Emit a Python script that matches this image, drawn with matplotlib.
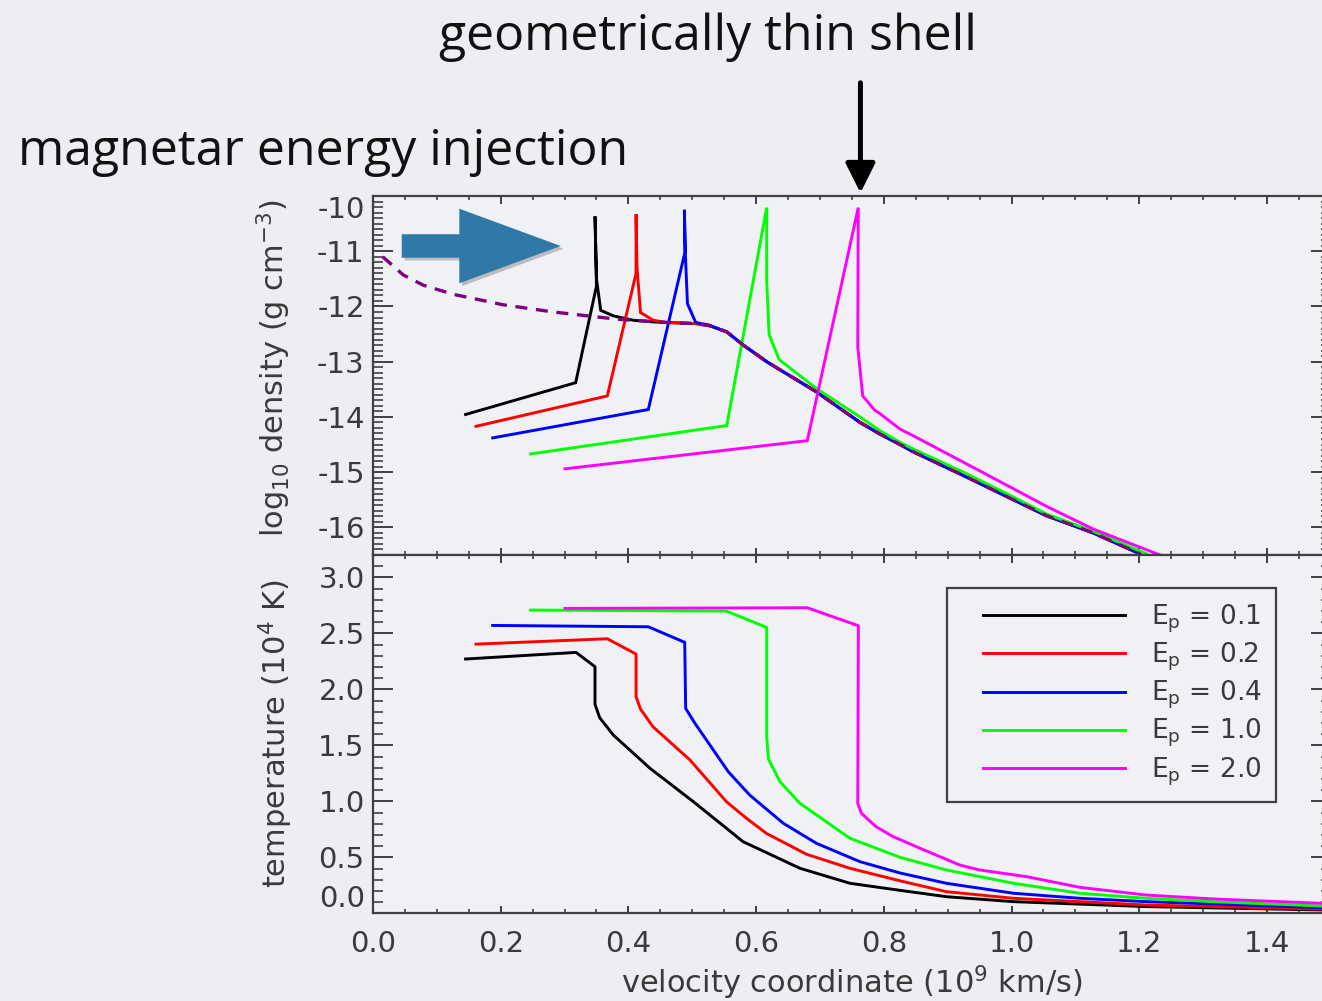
import matplotlib
matplotlib.use("Agg")
import matplotlib.pyplot as plt
from matplotlib.ticker import MultipleLocator, FixedLocator, FuncFormatter
from matplotlib.patches import FancyArrow
from matplotlib.lines import Line2D
from matplotlib.legend_handler import HandlerLine2D
import matplotlib.patheffects as pe

plt.rcParams['axes.unicode_minus'] = False
plt.rcParams['font.family'] = ['DejaVu Sans']

# ---------------- data ----------------
labels = [r'E$_\mathrm{p}$ = 0.1', r'E$_\mathrm{p}$ = 0.2', r'E$_\mathrm{p}$ = 0.4',
          r'E$_\mathrm{p}$ = 1.0', r'E$_\mathrm{p}$ = 2.0']
colors = ['#000000', '#ff0000', '#0000ff', '#00ff00', '#ff00ff']

# shared outer density profile (black/red/blue/initial merge here)
dens_outer_v = [0.46, 0.505, 0.528, 0.554, 0.58, 0.6166, 0.695, 0.7627, 0.794, 0.8254,
                0.846, 0.9246, 1.003, 1.055, 1.128, 1.2013]
dens_outer_r = [-12.29, -12.31, -12.35, -12.46, -12.70, -13.0, -13.55, -14.10, -14.31, -14.50,
                -14.63, -15.06, -15.50, -15.79, -16.10, -16.48]

dens_v_01 = [0.145, 0.3174, 0.3500, 0.3477, 0.3500, 0.3566, 0.3764, 0.4077, 0.439]
dens_r_01 = [-13.956, -13.38, -11.63, -10.37, -11.50, -12.07, -12.17, -12.25, -12.28]
dens_v_02 = [0.1613, 0.367, 0.412, 0.412, 0.4135, 0.419, 0.439]
dens_r_02 = [-14.17, -13.62, -11.40, -10.33, -11.30, -12.11, -12.25]
dens_v_04 = [0.1874, 0.4312, 0.4887, 0.4877, 0.4890, 0.4925, 0.5054, 0.5278]
dens_r_04 = [-14.38, -13.866, -11.01, -10.25, -11.00, -11.95, -12.29, -12.34]
dens_v_10 = [0.247, 0.554, 0.6166, 0.6166, 0.6204, 0.636, 0.695, 0.7627, 0.794, 0.8254,
             0.846, 0.9246, 1.003, 1.055, 1.128, 1.2117]
dens_r_10 = [-14.67, -14.156, -10.21, -11.55, -12.51, -12.96, -13.49, -14.0, -14.25, -14.46,
             -14.58, -15.0, -15.45, -15.76, -16.07, -16.48]
dens_v_20 = [0.3007, 0.6802, 0.760, 0.7592, 0.767, 0.786, 0.794, 0.8254, 0.846, 0.9246,
             1.003, 1.055, 1.128, 1.2326]
dens_r_20 = [-14.94, -14.43, -10.21, -12.73, -13.62, -13.88, -13.94, -14.22, -14.34, -14.82,
             -15.30, -15.62, -16.03, -16.50]
dens_v_init = [0.0152, 0.0475, 0.0788, 0.1258, 0.204, 0.2824, 0.3816]
dens_r_init = [-11.10, -11.43, -11.615, -11.78, -11.97, -12.10, -12.23]

temp_v_01 = [0.145, 0.318, 0.3477, 0.3477, 0.355, 0.3764, 0.4338, 0.5017, 0.5795, 0.6687,
             0.747, 0.8254, 0.8985, 1.003, 1.211, 1.486]
temp_t_01 = [2.271, 2.33, 2.202, 1.866, 1.747, 1.592, 1.295, 0.997, 0.64, 0.402,
             0.268, 0.205, 0.148, 0.104, 0.06, 0.03]
temp_v_02 = [0.1613, 0.367, 0.412, 0.412, 0.419, 0.4385, 0.4965, 0.5535, 0.585, 0.6161,
             0.679, 0.747, 0.8254, 0.898, 1.003, 1.211, 1.486]
temp_t_02 = [2.404, 2.452, 2.315, 1.934, 1.824, 1.666, 1.369, 0.997, 0.848, 0.714,
             0.527, 0.402, 0.29, 0.193, 0.134, 0.074, 0.038]
temp_v_04 = [0.1874, 0.4312, 0.4882, 0.4897, 0.5043, 0.5565, 0.59, 0.6426, 0.6945, 0.7627,
             0.8254, 0.898, 1.003, 1.107, 1.211, 1.486]
temp_t_04 = [2.571, 2.559, 2.42, 1.83, 1.696, 1.264, 1.056, 0.804, 0.625, 0.461,
             0.36, 0.268, 0.179, 0.134, 0.104, 0.05]
temp_v_10 = [0.247, 0.5535, 0.6166, 0.6166, 0.6193, 0.6374, 0.6687, 0.747, 0.8254, 0.898,
             1.003, 1.107, 1.211, 1.316, 1.486]
temp_t_10 = [2.708, 2.699, 2.553, 1.577, 1.378, 1.175, 0.982, 0.67, 0.50, 0.387,
             0.268, 0.179, 0.134, 0.104, 0.065]
temp_v_20 = [0.3007, 0.6802, 0.7602, 0.7592, 0.765, 0.788, 0.815, 0.857, 0.919, 0.950,
             1.024, 1.107, 1.211, 1.316, 1.486]
temp_t_20 = [2.723, 2.729, 2.568, 0.982, 0.893, 0.773, 0.684, 0.58, 0.431, 0.387,
             0.327, 0.232, 0.163, 0.128, 0.089]

x_ticks = [0.0, 0.2, 0.4, 0.6, 0.8, 1.0, 1.2, 1.4]
dens_ticks = [-16, -15, -14, -13, -12, -11, -10]
temp_ticks = [0.0, 0.5, 1.0, 1.5, 2.0, 2.5, 3.0]

# ---------------- figure ----------------
W, H = 1322, 1001
bg = '#eceef2'
axbg = '#eff1f4'
spine_c = '#404040'
text_c = '#3a3a3a'

fig = plt.figure(figsize=(W / 100, H / 100), dpi=100, facecolor=bg)

left_px, right_px = 373, 1330.75
top_px, mid_px, bot_px = 196, 555, 913.3
ax1 = fig.add_axes([left_px / W, 1 - mid_px / H, (right_px - left_px) / W, (mid_px - top_px) / H])
ax2 = fig.add_axes([left_px / W, 1 - bot_px / H, (right_px - left_px) / W, (bot_px - mid_px) / H])

lw = 2.1
dens_v = [dens_v_01 + dens_outer_v, dens_v_02 + dens_outer_v, dens_v_04 + dens_outer_v[2:],
          dens_v_10, dens_v_20]
dens_r = [dens_r_01 + dens_outer_r, dens_r_02 + dens_outer_r, dens_r_04 + dens_outer_r[2:],
          dens_r_10, dens_r_20]
temp_v = [temp_v_01, temp_v_02, temp_v_04, temp_v_10, temp_v_20]
temp_t = [temp_t_01, temp_t_02, temp_t_04, temp_t_10, temp_t_20]

for v, r, c in zip(dens_v, dens_r, colors):
    ax1.plot(v, r, color=c, lw=lw, solid_joinstyle='miter')
ax1.plot(dens_v_init + dens_outer_v, dens_r_init + dens_outer_r, color='#7f007f', lw=2.4,
         linestyle=(0, (3.6, 2.6)))

for v, t, c, lab in zip(temp_v, temp_t, colors, labels):
    ax2.plot(v, t, color=c, lw=lw, label=lab)

for ax in (ax1, ax2):
    ax.set_facecolor(axbg)
    ax.set_xlim(0, 1.5)
    for s in ax.spines.values():
        s.set_color(spine_c)
        s.set_linewidth(1.6)
    ax.xaxis.set_major_locator(FixedLocator(x_ticks))
    ax.xaxis.set_minor_locator(MultipleLocator(0.05))
    ax.yaxis.set_minor_locator(MultipleLocator(0.1))
    ax.tick_params(axis='both', which='both', direction='in', top=True, right=True,
                   colors=spine_c, labelcolor=text_c, labelsize=21)
    ax.tick_params(axis='x', which='major', length=5.4, width=1.4)
    ax.tick_params(axis='x', which='minor', length=2.7, width=1.2)
    ax.tick_params(axis='y', which='major', length=14.4, width=1.4, pad=6)
    ax.tick_params(axis='y', which='minor', length=7.2, width=1.2)

ax1.set_ylim(-16.5, -10)
ax1.yaxis.set_major_locator(FixedLocator(dens_ticks))
ax1.yaxis.set_major_formatter(FuncFormatter(lambda val, pos: f'{val:.0f}'))
ax1.tick_params(axis='x', labelbottom=False)

ax2.set_ylim(0, 3.2)
ax2.yaxis.set_major_locator(FixedLocator(temp_ticks))
ax2.yaxis.set_major_formatter(FuncFormatter(lambda val, pos: f'{val:.1f}'))
ax2.xaxis.set_major_formatter(FuncFormatter(lambda val, pos: f'{val:.1f}'))
ax2.tick_params(axis='x', which='major', pad=12)

# extreme labels shifted inside like the original
for tick, val in zip(ax1.yaxis.get_major_ticks(), dens_ticks):
    if val == -10:
        tick.label1.set_va('top')
for tick, val in zip(ax2.yaxis.get_major_ticks(), temp_ticks):
    if val == 0.0:
        tick.label1.set_va('bottom')

ax1.set_ylabel(r'log$_{10}$ density (g cm$^{-3}$)', fontsize=22, color=text_c)
ax1.yaxis.set_label_coords((293 - left_px) / (right_px - left_px), 0.52)
ax2.set_ylabel(r'temperature (10$^4$ K)', fontsize=22, color=text_c)
ax2.yaxis.set_label_coords((295 - left_px) / (right_px - left_px), 0.5)
ax2.set_xlabel(r'velocity coordinate (10$^9$ km/s)', fontsize=22, color=text_c)
ax2.xaxis.set_label_coords(0.5, -(964 - bot_px) / (bot_px - mid_px))

leg_fs = 19
leg = ax2.legend(loc='upper left', bbox_to_anchor=(946.7 / W, 1 - 588.3 / H),
                 bbox_transform=fig.transFigure, borderaxespad=0, fontsize=leg_fs,
                 frameon=True, fancybox=False, borderpad=0.55, handlelength=6.2,
                 handletextpad=1.0, labelspacing=0.22,
                 handler_map={Line2D: HandlerLine2D(xpad=0.82)})
frame = leg.get_frame()
frame.set_edgecolor(spine_c)
frame.set_linewidth(1.6)
frame.set_facecolor(axbg)
frame.set_alpha(1)
for t in leg.get_texts():
    t.set_color(text_c)

# ---------------- annotations ----------------
fig.text(707.5 / W, 1 - 50 / H, 'geometrically thin shell', fontsize=36,
         family=['Open Sans', 'DejaVu Sans'], ha='center', va='baseline', color='#111111')
fig.text(18 / W, 1 - 165 / H, 'magnetar energy injection', fontsize=36,
         family=['Open Sans', 'DejaVu Sans'], ha='left', va='baseline', color='#111111')

# black arrow pointing at the shell
ax1.annotate('', xy=(0.7634, -9.945), xytext=(0.7634, -7.95), xycoords='data',
             annotation_clip=False,
             arrowprops=dict(arrowstyle='-|>,head_length=1.0,head_width=0.5',
                             mutation_scale=18, lw=3.6, color='black',
                             shrinkA=0, shrinkB=0))

# blue block arrow
blue_arrow = FancyArrow(0.045, -10.905, 0.249, 0, width=0.425, head_width=1.35,
                        head_length=0.1588, length_includes_head=True,
                        facecolor='#2f78a8', edgecolor='none', zorder=5, clip_on=False)
blue_arrow.set_path_effects([pe.withSimplePatchShadow(offset=(2, -2), shadow_rgbFace='k',
                                                      alpha=0.22)])
ax1.add_patch(blue_arrow)

fig.savefig('out.png', dpi=100, facecolor=bg)
